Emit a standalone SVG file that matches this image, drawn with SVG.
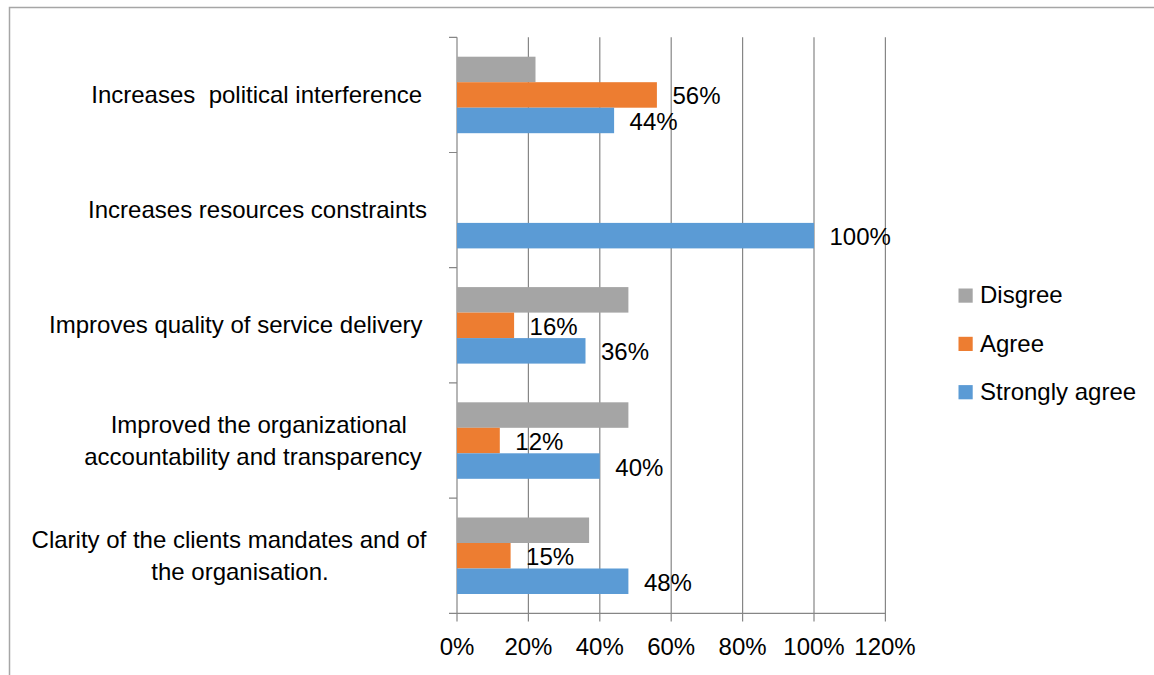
<svg xmlns="http://www.w3.org/2000/svg" width="1154" height="675" viewBox="0 0 1154 675">
<style>
text{font-family:"Liberation Sans",Arial,sans-serif;font-size:24px;fill:#000}
.cat{text-anchor:middle}
.ax{text-anchor:middle}
.grid{stroke:#868686;stroke-width:1.2;fill:none}
.gray{fill:#A5A5A5}
.orange{fill:#ED7D31}
.blue{fill:#5B9BD5}
</style>
<rect x="0" y="0" width="1154" height="675" fill="#fff"/>
<path d="M9.5,675 V7.5 H1154" fill="none" stroke="#A6A6A6" stroke-width="1.5"/>
<g id="gridlines">
<path class="grid" d="M528.4,37.3 V621.5 M599.8,37.3 V621.5 M671.2,37.3 V621.5 M742.6,37.3 V621.5 M814,37.3 V621.5 M885.4,37.3 V621.5"/>
</g>
<g id="axes">
<path class="grid" d="M457,37.3 V621.5 M449,613.3 H885.4 M449,37.3 H457 M449,152.5 H457 M449,267.7 H457 M449,382.9 H457 M449,498.1 H457"/>
<text class="ax" x="457" y="655">0%</text>
<text class="ax" x="528.4" y="655">20%</text>
<text class="ax" x="599.8" y="655">40%</text>
<text class="ax" x="671.2" y="655">60%</text>
<text class="ax" x="742.6" y="655">80%</text>
<text class="ax" x="814" y="655">100%</text>
<text class="ax" x="885" y="655">120%</text>
</g>
<g id="cat-political">
<text class="cat" x="256.7" y="103" xml:space="preserve">Increases  political interference</text>
<rect class="gray" x="457" y="56.7" width="78.5" height="25.5"/>
<rect class="orange" x="457" y="82.2" width="199.9" height="25.5"/>
<rect class="blue" x="457" y="107.7" width="157.1" height="25.5"/>
<text x="672.5" y="104">56%</text>
<text x="629.6" y="129.5">44%</text>
</g>
<g id="cat-resources">
<text class="cat" x="257.5" y="218">Increases resources constraints</text>
<rect class="blue" x="457" y="222.9" width="357" height="25.5"/>
<text x="829.5" y="244.7">100%</text>
</g>
<g id="cat-quality">
<text class="cat" x="235.8" y="333">Improves quality of service delivery</text>
<rect class="gray" x="457" y="287.1" width="171.4" height="25.5"/>
<rect class="orange" x="457" y="312.6" width="57.1" height="25.5"/>
<rect class="blue" x="457" y="338.1" width="128.5" height="25.5"/>
<text x="529.6" y="334.8">16%</text>
<text x="601" y="360.3">36%</text>
</g>
<g id="cat-accountability">
<text class="cat" x="258.8" y="433">Improved the organizational</text>
<text class="cat" x="253" y="465">accountability and transparency</text>
<rect class="gray" x="457" y="402.3" width="171.4" height="25.5"/>
<rect class="orange" x="457" y="427.8" width="42.8" height="25.5"/>
<rect class="blue" x="457" y="453.3" width="142.8" height="25.5"/>
<text x="515.3" y="450">12%</text>
<text x="615.3" y="475.5">40%</text>
</g>
<g id="cat-clarity">
<text class="cat" x="229" y="548">Clarity of the clients mandates and of</text>
<text class="cat" x="240" y="580">the organisation.</text>
<rect class="gray" x="457" y="517.5" width="132.1" height="25.5"/>
<rect class="orange" x="457" y="543" width="53.6" height="25.5"/>
<rect class="blue" x="457" y="568.5" width="171.4" height="25.5"/>
<text x="526.1" y="565.2">15%</text>
<text x="643.9" y="590.7">48%</text>
</g>
<g id="legend">
<rect class="gray" x="958.5" y="288.5" width="14.2" height="14.2"/>
<text x="980" y="303.3">Disgree</text>
<rect class="orange" x="958.5" y="336.8" width="14.2" height="14.2"/>
<text x="980" y="351.6">Agree</text>
<rect class="blue" x="958.5" y="385.1" width="14.2" height="14.2"/>
<text x="980" y="399.9">Strongly agree</text>
</g>
</svg>
